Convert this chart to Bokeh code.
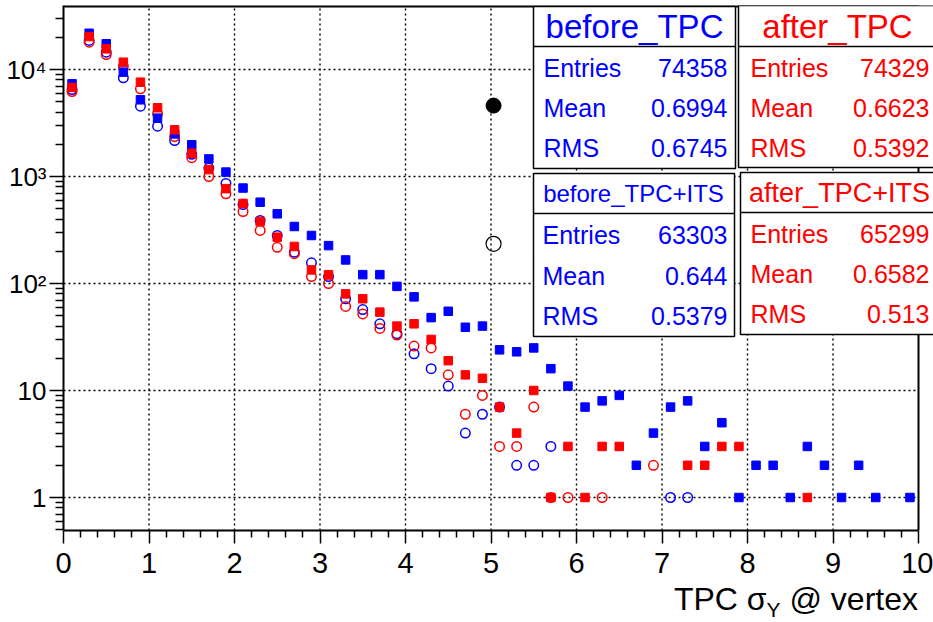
from bokeh.plotting import figure
from bokeh.models import FixedTicker, Range1d, Div
from bokeh.layouts import column
from bokeh.core.properties import value
from bokeh.embed import file_html
from bokeh.resources import INLINE

# ---------------- data ----------------
bin_x = [0.1, 0.3, 0.5, 0.7, 0.9, 1.1, 1.3, 1.5, 1.7, 1.9,
         2.1, 2.3, 2.5, 2.7, 2.9, 3.1, 3.3, 3.5, 3.7, 3.9,
         4.1, 4.3, 4.5, 4.7, 4.9, 5.1, 5.3, 5.5, 5.7, 5.9,
         6.1, 6.3, 6.5, 6.7, 6.9, 7.1, 7.3, 7.5, 7.7, 7.9,
         8.1, 8.3, 8.5, 8.7, 8.9, 9.1, 9.3, 9.5, 9.7, 9.9]

before_tpc = [7350, 21800, 17400, 9450, 5210, 3510, 2500, 1980, 1460, 1100,
              780, 575, 448, 341, 281, 226, 166, 121, 121, 94,
              75, 48, 55, 39, 40, 24, 23, 25, 16, 11,
              7, 8, 9, 2, 4, 7, 8, 3, 5, 1,
              2, 2, 1, 3, 2, 1, 2, 1, 0, 1]

after_tpc = [6800, 20300, 15600, 11700, 7610, 4390, 2730, 1650, 1160, 770,
             560, 380, 271, 222, 134, 121, 80, 72, 54, 40,
             42, 30, 19, 14, 13, 7, 4, 10, 1, 3,
             1, 3, 3, 0, 0, 0, 2, 2, 3, 3,
             0, 0, 0, 1, 0, 0, 0, 0, 0, 0]

before_tpc_its = [6500, 18700, 14500, 8360, 4540, 2950, 2170, 1610, 1200, 860,
                  546, 388, 281, 196, 156, 116, 72, 57, 42, 34,
                  22, 16, 11, 4, 6, 7, 2, 2, 3, 0,
                  0, 0, 0, 0, 0, 1, 1, 0, 0, 0,
                  0, 0, 0, 0, 0, 0, 0, 0, 0, 0]

after_tpc_its = [6230, 18000, 13800, 10700, 6600, 3860, 2360, 1500, 1000, 690,
                 471, 313, 218, 190, 116, 100, 61, 52, 38, 33,
                 26, 25, 14, 6, 9, 3, 3, 7, 1, 1,
                 0, 1, 0, 0, 2, 0, 0, 0, 0, 0,
                 0, 0, 0, 0, 0, 0, 0, 0, 0, 0]

# stray black markers
black_filled_x = [5.03]
black_filled_y = [4600]
black_open_x = [5.03]
black_open_y = [235]

stats = [
    ("before_TPC", "74358", "0.6994", "0.6745"),
    ("after_TPC", "74329", "0.6623", "0.5392"),
    ("before_TPC+ITS", "63303", "0.644", "0.5379"),
    ("after_TPC+ITS", "65299", "0.6582", "0.513"),
]

x_ticks = [0, 1, 2, 3, 4, 5, 6, 7, 8, 9, 10]
y_ticks = [1, 10, 100, 1000, 10000]
y_tick_labels = {1: "1", 10: "10", 100: "10\u00b2", 1000: "10\u00b3", 10000: "10\u2074"}

BLUE = "#0000ff"
RED = "#ff0000"
FONT = "Liberation Sans"

# ---------------- geometry ----------------
W, H = 933, 590                        # figure; a title strip of 32 px goes below
TITLE_H = 32
FL, FR, FT, FB = 63, 933, 5, 530      # frame in pixels
PX_PER_X = 85.5                        # pixels per x unit
Y1_PX, DEC_PX = 497.0, 107.0           # pixel of y=1, pixels per decade

def dx(px):
    return (px - FL) / PX_PER_X

def dy(py):
    return 10 ** ((Y1_PX - py) / DEC_PX)

XMAX = dx(FR)
YMIN, YMAX = dy(FB), dy(FT)

p = figure(width=W, height=H, output_backend="svg", toolbar_location=None,
           y_axis_type="log",
           x_range=Range1d(0, XMAX), y_range=Range1d(YMIN, YMAX),
           min_border_left=FL, min_border_right=0,
           min_border_top=FT, min_border_bottom=H - FB)
p.outline_line_color = None
p.xgrid.visible = False
p.ygrid.visible = False
p.background_fill_color = "white"
p.border_fill_color = "white"

# axes
minor_x = [round(0.2 * i, 1) for i in range(1, 50) if i % 5 != 0]
p.xaxis.ticker = FixedTicker(ticks=x_ticks, minor_ticks=minor_x)
p.xaxis.bounds = (0, 10)
p.xaxis.axis_line_width = 2
p.xaxis.major_tick_out = 13
p.xaxis.major_tick_in = 0
p.xaxis.minor_tick_out = 7
p.xaxis.minor_tick_in = 0
p.xaxis.major_tick_line_width = 1.5
p.xaxis.minor_tick_line_width = 1.5
p.xaxis.major_label_standoff = 9
p.xaxis.major_label_text_font = FONT
p.xaxis.major_label_text_font_size = "29px"
p.xaxis.major_label_text_color = "black"

minor_y = []
for e in [0.1, 1, 10, 100, 1000, 10000]:
    for m in range(2, 10):
        minor_y.append(m * e)
p.yaxis.ticker = FixedTicker(ticks=y_ticks, minor_ticks=minor_y)
p.yaxis.major_label_overrides = y_tick_labels
p.yaxis.axis_line_width = 2
p.yaxis.major_tick_out = 14
p.yaxis.major_tick_in = 0
p.yaxis.minor_tick_out = 8
p.yaxis.minor_tick_in = 0
p.yaxis.major_tick_line_width = 1.5
p.yaxis.minor_tick_line_width = 1.5
p.yaxis.major_label_standoff = 3
p.yaxis.major_label_text_font = FONT
p.yaxis.major_label_text_font_size = "26px"
p.yaxis.major_label_text_color = "black"

# grid (dotted), limited to the x range 0..10
for gx in x_ticks[1:-1]:
    p.segment(x0=gx, x1=gx, y0=YMIN, y1=YMAX, line_color="black",
              line_width=1.4, line_dash="2 3")
for gy in y_ticks:
    p.segment(x0=0, x1=10, y0=gy, y1=gy, line_color="black",
              line_width=1.4, line_dash="2 3")

# frame top and right
p.segment(x0=0, x1=10, y0=YMAX, y1=YMAX, line_color="black", line_width=4)
p.segment(x0=10, x1=10, y0=YMIN, y1=YMAX, line_color="black", line_width=2)

def nz(xs, ys):
    pts = [(x, y) for x, y in zip(xs, ys) if y > 0]
    return [a for a, _ in pts], [b for _, b in pts]

x, y = nz(bin_x, before_tpc_its)
p.scatter(x, y, marker="circle", size=9.5, line_color=BLUE, fill_alpha=0, line_width=1.5)
x, y = nz(bin_x, after_tpc_its)
p.scatter(x, y, marker="circle", size=9.5, line_color=RED, fill_alpha=0, line_width=1.5)
x, y = nz(bin_x, before_tpc)
p.scatter(x, y, marker="square", size=8.5, color=BLUE)
x, y = nz(bin_x, after_tpc)
p.scatter(x, y, marker="square", size=8.5, color=RED)

p.scatter(black_filled_x, black_filled_y, marker="circle", size=15, color="black")
p.scatter(black_open_x, black_open_y, marker="circle", size=15, line_color="black",
          fill_alpha=0, line_width=1.2)

# ---------------- stat boxes ----------------
# (left, right, top, bottom, sep, title_x, title_y, title_size, rows_y, lab_x, val_x, color)
boxes = [
    (533, 735, 6, 168, 46, 634, 26, "33px", [67, 107, 147], 543, 727, BLUE),
    (738, 945, 5, 167, 46, 837, 26, "33px", [67, 107, 147], 750, 929, RED),
    (533, 734, 173, 336, 213, 633, 193, "24px", [234, 275, 315], 542, 727, BLUE),
    (740, 945, 172, 334, 212, 839, 192, "27px", [233, 273, 313], 750, 929, RED),
]
for (st, bx) in zip(stats, boxes):
    l, r, t, b, sep, tx, ty, tsize, rows, lx, vx, col = bx
    p.quad(left=dx(l), right=dx(r), top=dy(t), bottom=dy(b),
           fill_color="white", line_color="black", line_width=1.5)
    p.segment(x0=dx(l), x1=dx(r), y0=dy(sep), y1=dy(sep), line_color="black", line_width=1.5)
    p.text(x=[dx(tx)], y=[dy(ty)], text=[st[0]], text_color=col,
           text_font=value(FONT), text_font_size=tsize,
           text_align="center", text_baseline="middle")
    p.text(x=[dx(lx)] * 3, y=[dy(v) for v in rows], text=["Entries", "Mean", "RMS"],
           text_color=col, text_font=value(FONT), text_font_size="25px",
           text_align="left", text_baseline="middle")
    p.text(x=[dx(vx)] * 3, y=[dy(v) for v in rows], text=[st[1], st[2], st[3]],
           text_color=col, text_font=value(FONT), text_font_size="25px",
           text_align="right", text_baseline="middle")

# ---------------- axis title (below the figure) ----------------
title_html = (
    '<div style="position:relative; top:-7px; width:918px; text-align:right; '
    'font-family:\'Liberation Sans\'; font-size:32px; line-height:32px; color:black; '
    'white-space:nowrap;">TPC \u03c3<sub style="font-size:21px;">Y</sub> @ vertex</div>'
)
title_div = Div(text=title_html, width=W, height=TITLE_H, margin=(0, 0, 0, 0))

layout = column(p, title_div, spacing=0)
open("out.html", "w").write(file_html(layout, INLINE))
